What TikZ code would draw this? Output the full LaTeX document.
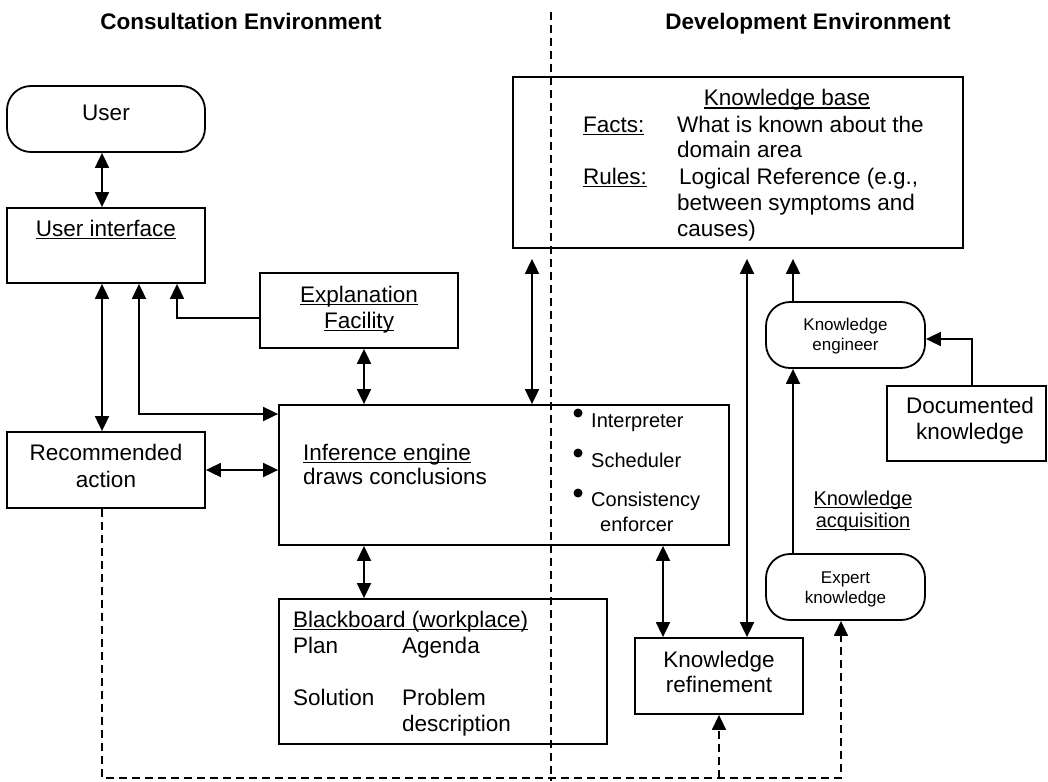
\documentclass[tikz,border=0pt]{standalone}
\usepackage{fontspec}
\setmainfont{Liberation Sans}
\usetikzlibrary{arrows.meta}
\newcommand\myul[1]{\setbox0\hbox{#1}\rlap{\rule[-3pt]{\wd0}{1.5pt}}\box0}
\newcommand\fbig{\fontsize{22.5}{26}\selectfont}
\newcommand\fmid{\fontsize{20}{24}\selectfont}
\newcommand\fsml{\fontsize{17}{20}\selectfont}
\begin{document}
\begin{tikzpicture}[x=1pt,y=-1pt,
  box/.style={draw, line width=1.8pt, inner sep=0pt},
  rbox/.style={box, rounded corners=24pt},
  txt/.style={anchor=base, inner sep=0pt, font=\fbig},
  txtw/.style={anchor=base west, inner sep=0pt, font=\fbig},
  ln/.style={line width=1.8pt},
  tip/.style={-{Triangle[length=15pt,width=14pt]}},
  dbl/.style={ln, {Triangle[length=15pt,width=14pt]}-{Triangle[length=15pt,width=14pt]}},
  one/.style={ln, tip},
  dsh/.style={line width=1.6pt, dash pattern=on 8pt off 5pt},
  bul/.style={circle, fill, inner sep=0pt, minimum size=9pt},
]
\useasboundingbox (0,0) rectangle (1048,781);

% guides
\coordinate (xa) at (102,0);
\coordinate (xb) at (139,0);
\coordinate (xc) at (177,0);
\coordinate (xd) at (364,0);
\coordinate (xe) at (532,0);
\coordinate (xf) at (663,0);
\coordinate (xg) at (747,0);
\coordinate (xh) at (793,0);
\coordinate (xi) at (972,0);
\coordinate (xj) at (719,0);
\coordinate (xk) at (841,0);
\coordinate (ya) at (0,318);
\coordinate (yb) at (0,414);
\coordinate (yc) at (0,470);
\coordinate (yk) at (0,339);
\coordinate (bm) at (719,778);
\coordinate (br) at (841,778);
\coordinate (dtop) at (551,12);
\coordinate (dbot) at (551,781);

% titles
\node[txt, font=\fbig\bfseries] (t1) at (241,30) {Consultation Environment};
\node[txt, font=\fbig\bfseries] (t2) at (808,30) {Development Environment};

% boxes
\node[rbox, minimum width=198pt, minimum height=66pt] (user) at (106,119) {};
\node[box, minimum width=198pt, minimum height=75pt] (ui) at (106,245.5) {};
\node[box, minimum width=198pt, minimum height=75pt] (expl) at (359,310.5) {};
\node[box, minimum width=450pt, minimum height=140pt] (inf) at (504,475) {};
\node[box, minimum width=198pt, minimum height=76pt] (rec) at (106,470) {};
\node[box, minimum width=328pt, minimum height=145pt] (bb) at (443,671.5) {};
\node[box, minimum width=450pt, minimum height=171pt] (kb) at (738,162.5) {};
\node[rbox, minimum width=159pt, minimum height=66pt] (eng) at (845.5,335) {};
\node[box, minimum width=159pt, minimum height=75pt] (doc) at (966.5,423.5) {};
\node[rbox, minimum width=159pt, minimum height=66pt] (exp) at (845.5,587) {};
\node[box, minimum width=168pt, minimum height=76pt] (ref) at (719,676) {};

% texts
\node[txt] (l1) at (106,121) {User};
\node[txt] (l2) at (106,236) {\myul{User interface}};
\node[txt] (l3) at (359,302) {\myul{Explanation}};
\node[txt] (l4) at (359,328) {\myul{Facility}};
\node[txt] (l5) at (106,460) {Recommended};
\node[txt] (l6) at (106,487) {action};
\node[txtw] (l7) at (303,460) {\myul{Inference engine}};
\node[txtw] (l8) at (303,484) {draws conclusions};
\node[bul] (b1) at (578,413) {};
\node[bul] (b2) at (578,453) {};
\node[bul] (b3) at (578,493) {};
\node[txtw, font=\fmid] (l9) at (591,427) {Interpreter};
\node[txtw, font=\fmid] (l10) at (591,467) {Scheduler};
\node[txtw, font=\fmid] (l11) at (591,506) {Consistency};
\node[txtw, font=\fmid] (l12) at (600,531) {enforcer};
\node[txt] (k1) at (787,106) {\myul{Knowledge base}};
\node[txtw] (k2) at (583,132) {\myul{Facts:}};
\node[txtw] (k3) at (677,132) {What is known about the};
\node[txtw] (k4) at (677,157) {domain area};
\node[txtw] (k5) at (583,184) {\myul{Rules:}};
\node[txtw] (k6) at (679,184) {Logical Reference (e.g.,};
\node[txtw] (k7) at (677,210) {between symptoms and};
\node[txtw] (k8) at (677,236) {causes)};
\node[txt, font=\fsml] (e1) at (845.5,330) {Knowledge};
\node[txt, font=\fsml] (e2) at (845.5,350) {engineer};
\node[txt] (d1) at (970,413) {Documented};
\node[txt] (d2) at (970,439) {knowledge};
\node[txt, font=\fmid] (a1) at (863,505) {\myul{Knowledge}};
\node[txt, font=\fmid] (a2) at (863,527) {\myul{acquisition}};
\node[txt, font=\fsml] (x1) at (845.5,583) {Expert};
\node[txt, font=\fsml] (x2) at (845.5,603) {knowledge};
\node[txt] (r1) at (719,667) {Knowledge};
\node[txt] (r2) at (719,692) {refinement};
\node[txtw] (w1) at (293,627) {\myul{Blackboard (workplace)}};
\node[txtw] (w2) at (293,653) {Plan};
\node[txtw] (w3) at (402,653) {Agenda};
\node[txtw] (w4) at (293,705) {Solution};
\node[txtw] (w5) at (402,705) {Problem};
\node[txtw] (w6) at (402,731) {description};

% connectors
\draw[dbl] (user.south -| xa) -- (ui.north -| xa);
\draw[dbl] (ui.south -| xa) -- (rec.north -| xa);
\draw[dbl] (ui.south -| xb) |- (inf.west |- yb);
\draw[one] (expl.west |- ya) -| (ui.south -| xc);
\draw[dbl] (expl.south -| xd) -- (inf.north -| xd);
\draw[dbl, shorten <=10pt] (kb.south -| xe) -- (inf.north -| xe);
\draw[dbl] (rec.east |- yc) -- (inf.west |- yc);
\draw[dbl] (inf.south -| xd) -- (bb.north -| xd);
\draw[dbl] (inf.south -| xf) -- (ref.north -| xf);
\draw[dbl, shorten <=10pt] (kb.south -| xg) -- (ref.north -| xg);
\draw[one, shorten >=10pt] (eng.north -| xh) -- (kb.south -| xh);
\draw[one] (doc.north -| xi) |- (eng.east |- yk);
\draw[one] (exp.north -| xh) -- (eng.south -| xh);
\draw[dsh, tip] (rec.south -| xa) |- (br) -- (exp.south -| xk);
\draw[dsh, tip] (bm) -- (ref.south -| xj);
\draw[dsh] (dtop) -- (dbot);
\end{tikzpicture}
\end{document}
